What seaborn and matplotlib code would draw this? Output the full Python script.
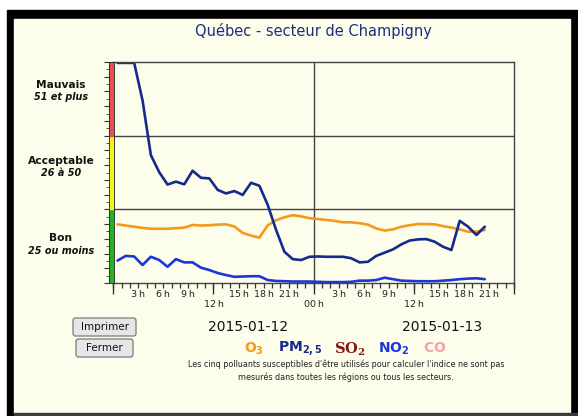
import numpy as np
import pandas as pd
import matplotlib
matplotlib.use("Agg")
import matplotlib.pyplot as plt
import seaborn as sns
from matplotlib.patches import Rectangle, FancyBboxPatch
from matplotlib.transforms import IdentityTransform

# --- données (indice horaire, 2015-01-12 -> 2015-01-13) ---
heures = np.arange(45) + 0.5

pm25 = [74.7, 74.7, 74.7, 62, 43.4, 37.6, 33.4, 34.4, 33.5, 38.1, 35.7, 35.5, 31.6,
        30.4, 31.2, 29.9, 34.0, 33.0, 26.5, 18.0, 10.6, 8.1, 7.8, 8.9, 9.0,
        8.9, 8.9, 8.9, 8.4, 7.0, 7.2, 9.2, 10.3, 11.4, 13.1, 14.4, 14.8,
        14.9, 14.0, 12.3, 11.2, 21.1, 19.1, 16.3, 19.1]
o3 = [19.9, 19.5, 19.1, 18.7, 18.4, 18.4, 18.4, 18.6, 18.8, 19.7, 19.5, 19.6,
      19.8, 19.9, 19.2, 17.0, 16.1, 15.4, 19.6, 21.3, 22.3, 23.0, 22.6, 22.0,
      21.7, 21.4, 21.1, 20.6, 20.6, 20.3, 19.8, 18.5, 17.8, 18.2, 19.1, 19.6,
      20.0, 20.0, 19.9, 19.3, 18.8, 18.2, 17.4, 17.4, 18.0]
no2 = [7.6, 9.2, 9.0, 6.1, 8.9, 7.8, 5.5, 8.1, 7.0, 7.0, 5.2, 4.4, 3.4, 2.7,
       2.1, 2.2, 2.3, 2.3, 1.0, 0.7, 0.6, 0.5, 0.5, 0.5, 0.4, 0.3, 0.3, 0.3,
       0.4, 0.8, 0.8, 1.0, 1.8, 1.3, 0.8, 0.7, 0.6, 0.6, 0.6, 0.8, 1.0, 1.3,
       1.5, 1.6, 1.3]

bandes = [(0, 25, "#1fb51f"), (25, 50, "#f7f01a"), (50, 75, "#e8504a")]
ticks_3h = [3, 6, 9, 15, 18, 21, 27, 30, 33, 39, 42, 45]
labels_3h = ["3\u2009h", "6\u2009h", "9\u2009h", "15\u2009h", "18\u2009h", "21\u2009h"] * 2
ticks_12h = [0, 12, 24, 36, 48]
labels_12h = ["", "12\u2009h", "00\u2009h", "12\u2009h", ""]

couleurs = {"O3": "#f39a1c", "NO2": "#1c36d8", "PM2,5": "#152a8c"}

df = pd.concat([
    pd.DataFrame({"heure": heures, "valeur": o3, "polluant": "O3"}),
    pd.DataFrame({"heure": heures, "valeur": no2, "polluant": "NO2"}),
    pd.DataFrame({"heure": heures, "valeur": pm25, "polluant": "PM2,5"}),
])

sns.set_theme(style="white")
plt.rcParams["font.family"] = ["DejaVu Sans"]

W, H = 578, 416
creme = "#fdfdeb"
fig = plt.figure(figsize=(W / 100, H / 100), dpi=100, facecolor="white")


def rect(x0, y0, x1, y1, **kw):
    fig.patches.append(Rectangle((x0 / W, 1 - y1 / H), (x1 - x0) / W, (y1 - y0) / H,
                                 transform=fig.transFigure, zorder=-10, **kw))


def txt(x, y, s, **kw):
    fig.text(x / W, 1 - y / H, s, ha=kw.pop("ha", "center"), va=kw.pop("va", "center"), **kw)


# cadre
rect(7, 10, 578, 416, color="black")
rect(14, 19, 570, 413, color=creme)
rect(14, 413, 578, 416, color="#3c3c3c")

# axes principal
x0, x1, y0, y1 = 113.3, 514, 62, 283
ax = fig.add_axes([x0 / W, 1 - y1 / H, (x1 - x0) / W, (y1 - y0) / H])
ax.set_facecolor("none")

sns.lineplot(data=df, x="heure", y="valeur", hue="polluant", palette=couleurs,
             hue_order=["O3", "NO2", "PM2,5"], linewidth=1.9, legend=False, ax=ax)

ax.set_xlim(0, 48)
ax.set_ylim(0, 75)
for v in (25, 50):
    ax.axhline(v, color="#444444", lw=1, zorder=0)
ax.axvline(24, color="#444444", lw=1, zorder=0)
for s in ax.spines.values():
    s.set_color("#444444")
    s.set_linewidth(1)
ax.set_xlabel("")
ax.set_ylabel("")
ax.set_yticks([])
ax.set_xticks(ticks_3h, labels=labels_3h)
ax.set_xticks(range(0, 49), minor=True)
ax.tick_params(axis="x", which="both", direction="out", length=3.6, width=0.9,
               color="#333333", bottom=True, labelsize=6.8, pad=1.5, labelcolor="#222222")

sec = ax.secondary_xaxis("bottom")
sec.set_xticks(ticks_12h, labels=labels_12h)
sec.tick_params(length=8, width=1, color="#333333", labelsize=6.8, pad=4.5, labelcolor="#222222")
sec.spines["bottom"].set_visible(False)

# barre de couleur (qualité de l'air)
cax = fig.add_axes([109 / W, 1 - y1 / H, 5 / W, (y1 - y0) / H])
for a, b, c in bandes:
    cax.axhspan(a, b, color=c)
cax.set_ylim(0, 75)
cax.set_xticks([])
cax.set_yticks(range(0, 76, 5))
cax.set_yticks(np.arange(0, 75, 2.5), minor=True)
cax.set_yticklabels([])
cax.tick_params(axis="y", which="major", left=True, length=3.5, width=0.8, color="#333333")
cax.tick_params(axis="y", which="minor", left=True, length=2, width=0.6, color="#333333")
for s in cax.spines.values():
    s.set_color("#222222")
    s.set_linewidth(0.6)

# étiquettes des bandes
txt(61, 85.5, "Mauvais", fontsize=7.7, fontweight="bold", color="#111111")
txt(61, 97, "51 et plus", fontsize=6.9, fontweight="bold", style="italic", color="#111111")
txt(61, 161.5, "Acceptable", fontsize=7.7, fontweight="bold", color="#111111")
txt(61, 173, "26 à 50", fontsize=6.9, fontweight="bold", style="italic", color="#111111")
txt(61, 238, "Bon", fontsize=7.7, fontweight="bold", color="#111111")
txt(61, 250.5, "25 ou moins", fontsize=6.9, fontweight="bold", style="italic", color="#111111")

# titre
txt(313, 31, "Québec - secteur de Champigny", fontsize=10.5, color="#1c2f80")

# dates
txt(248, 327, "2015-01-12", fontsize=10, color="#111111")
txt(442, 327, "2015-01-13", fontsize=10, color="#111111")

# légende des polluants
txt(254, 349, r"$\mathbf{O_3}$", fontsize=10, color="#f39a1c")
txt(300, 349, r"$\mathbf{PM_{2,5}}$", fontsize=10, color="#152a8c")
txt(350, 349, r"$\mathbf{SO_2}$", fontsize=10.5, color="#8b1212", math_fontfamily="dejavuserif")
txt(394, 349, r"$\mathbf{NO_2}$", fontsize=10, color="#1c36d8")
txt(434.5, 348, r"$\mathbf{CO}$", fontsize=10, color="#f5a3a3")

txt(346, 364, "Les cinq polluants susceptibles d'être utilisés pour calculer l'indice ne sont pas",
    fontsize=5.8, color="#222222")
txt(346, 377, "mesurés dans toutes les régions ou tous les secteurs.", fontsize=5.8, color="#222222")

# boutons
for (bx0, by0, bx1, by1, lab) in [(73, 318, 136, 336, "Imprimer"), (76, 339, 133, 357, "Fermer")]:
    fig.patches.append(FancyBboxPatch((bx0, H - by1), bx1 - bx0, by1 - by0,
                                      boxstyle="round,pad=0,rounding_size=2.5",
                                      transform=IdentityTransform(),
                                      facecolor="#e6e6e6", edgecolor="#7a7a7a", lw=0.9))
    txt((bx0 + bx1) / 2, (by0 + by1) / 2, lab, fontsize=7.5, color="#111111")

fig.savefig("out.png", dpi=100, facecolor="white")
